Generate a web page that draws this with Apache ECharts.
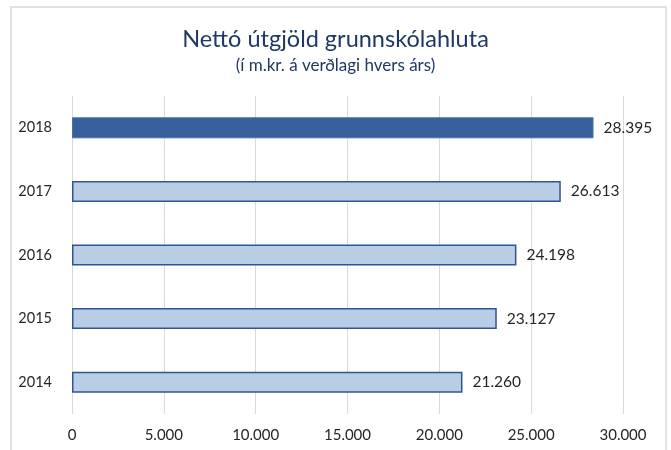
<!DOCTYPE html>
<html>
<head>
<meta charset="utf-8">
<script src="https://cdn.jsdelivr.net/npm/echarts@6/dist/echarts.min.js"></script>
<style>
html,body{margin:0;padding:0;background:#fff;}
#c{width:671px;height:450px;}
</style>
</head>
<body>
<div id="c"></div>
<script>
const years = ['2014', '2015', '2016', '2017', '2018'];
const values = [21260, 23127, 24198, 26613, 28395];
const xTicks = [0, 5000, 10000, 15000, 20000, 25000, 30000];
const highlightYear = '2018';
const titleText = 'Nettó útgjöld grunnskólahluta';
const subtitleText = '(í m.kr. á verðlagi hvers árs)';

function fmt(v) {
  return String(Math.round(v)).replace(/\B(?=(\d{3})+(?!\d))/g, '.');
}

const FONT = 'Lato, "Open Sans", sans-serif';
const chart = echarts.init(document.getElementById('c'), null, {renderer: 'canvas'});

const seriesData = values.map((v, i) => {
  const hi = years[i] === highlightYear;
  return {
    value: v,
    itemStyle: hi
      ? {color: '#375f9b', borderColor: '#4a70a8', borderWidth: 1}
      : {color: '#b9cde5', borderColor: '#2f5597', borderWidth: 1.5}
  };
});

chart.setOption({
  animation: false,
  backgroundColor: '#fff',
  graphic: [{
    type: 'rect',
    shape: {x: 11, y: 7, width: 655, height: 460},
    style: {fill: 'none', stroke: '#d9d9d9', lineWidth: 1.5},
    silent: true,
    z: -1
  }],
  title: [{
    text: titleText,
    left: 'center',
    top: 22,
    textStyle: {fontFamily: FONT, fontWeight: 'normal', fontSize: 23.5, color: '#1f3864'}
  }, {
    text: subtitleText,
    left: 'center',
    top: 52,
    textStyle: {fontFamily: FONT, fontWeight: 'normal', fontSize: 17, color: '#1f3864'}
  }],
  grid: {left: 72, right: 48, top: 96, bottom: 36, containLabel: false},
  xAxis: {
    type: 'value',
    min: xTicks[0],
    max: xTicks[xTicks.length - 1],
    interval: xTicks[1] - xTicks[0],
    axisLine: {show: false},
    axisTick: {show: false},
    splitLine: {show: true, lineStyle: {color: '#d9d9d9', width: 1}},
    axisLabel: {
      margin: 14,
      color: '#262626',
      fontFamily: FONT,
      fontSize: 15,
      formatter: v => fmt(v)
    }
  },
  yAxis: {
    type: 'category',
    data: years,
    axisLine: {show: false},
    axisTick: {show: false},
    axisLabel: {margin: 20, color: '#262626', fontFamily: FONT, fontSize: 14.5}
  },
  series: [{
    type: 'bar',
    data: seriesData,
    barWidth: 21,
    label: {
      show: true,
      position: 'right',
      distance: 10,
      color: '#262626',
      fontFamily: FONT,
      fontSize: 15.5,
      formatter: p => fmt(p.value)
    }
  }]
});
</script>
</body>
</html>
